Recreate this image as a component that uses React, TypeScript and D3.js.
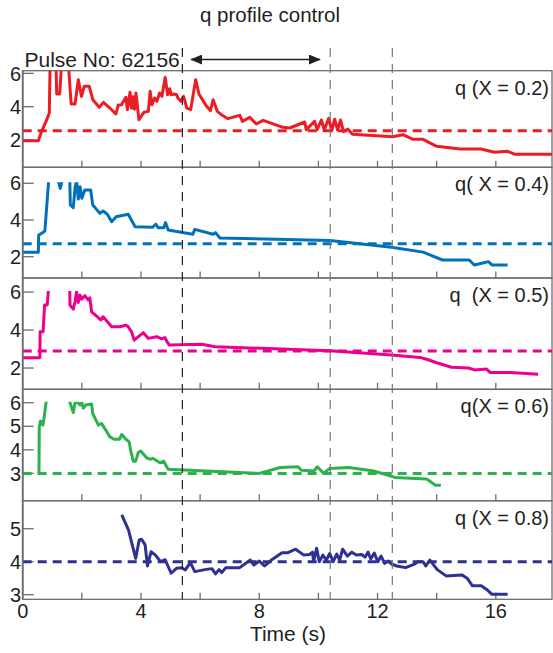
import React from "react";
import * as d3 from "d3";

// ---- data ----
const X_TICKS = [2, 4, 6, 8, 10, 12, 14, 16];
const X_LABELS = [0, 4, 8, 12, 16];
const CONTROL_LINES = [5.4, 10.4, 12.5];
const ARROW_RANGE = [5.7, 10.05];

const LABELS = ["q (X = 0.2)", "q( X = 0.4)", "q  (X = 0.5)", "q(X = 0.6)", "q (X = 0.8)"];
const REFS = [2.55, 2.7, 2.9, 3.0, 4.0];
const Y_TICKS = [[2, 4, 6], [2, 4, 6], [2, 4, 6], [3, 4, 5, 6], [3, 4, 5]];

const q02: [number, number][] = [
  [0.0, 1.95], [0.53, 1.95], [0.64, 2.52], [0.79, 3.12], [0.9, 3.62], [0.93, 7.0], [1.12, 7.0], [1.15, 4.76],
  [1.25, 4.76], [1.33, 7.0], [1.4, 6.5], [1.55, 6.5], [1.6, 5.12], [1.64, 4.16], [1.77, 4.16], [1.88, 5.62],
  [1.99, 4.62], [2.08, 5.22], [2.25, 5.22], [2.37, 4.42], [2.59, 3.96], [2.73, 4.26], [2.95, 3.92], [3.15, 3.56],
  [3.23, 4.08], [3.34, 4.12], [3.49, 4.56], [3.54, 3.82], [3.63, 4.86], [3.68, 3.9], [3.73, 4.6], [3.78, 3.85],
  [3.83, 4.82], [3.93, 3.22], [4.1, 3.66], [4.25, 3.72], [4.31, 4.92], [4.37, 4.12], [4.46, 4.52], [4.54, 4.32],
  [4.63, 4.82], [4.71, 4.62], [4.82, 5.76], [4.9, 4.72], [4.97, 5.08], [5.02, 4.72], [5.1, 4.76], [5.21, 4.72],
  [5.25, 4.52], [5.35, 4.32], [5.44, 4.62], [5.55, 3.92], [5.68, 3.82], [5.85, 5.62], [5.96, 4.76], [6.22, 4.02],
  [6.35, 3.76], [6.44, 4.42], [6.58, 3.72], [6.72, 3.52], [6.94, 3.28], [7.34, 3.48], [7.43, 3.12], [7.68, 3.36],
  [7.9, 2.96], [8.13, 3.18], [8.8, 2.76], [9.03, 2.72], [9.54, 3.08], [9.59, 2.62], [9.87, 3.12], [9.96, 2.62],
  [10.1, 3.2], [10.2, 2.6], [10.35, 3.3], [10.45, 2.55], [10.55, 3.25], [10.65, 2.6], [10.75, 3.2], [10.85, 2.5],
  [11.0, 2.65], [11.15, 2.35], [12.5, 2.2], [12.86, 2.32], [13.2, 2.04], [13.54, 2.04], [14.0, 1.62], [14.8, 1.46],
  [15.5, 1.46], [15.95, 1.26], [16.4, 1.32], [16.65, 1.14], [17.9, 1.14],
];

const q04: [number, number][] = [
  [0.0, 2.24], [0.53, 2.24], [0.54, 3.18], [0.64, 3.27], [0.75, 3.4], [0.89, 6.4], [1.0, 6.8], [1.18, 6.3],
  [1.27, 5.72], [1.36, 6.3], [1.5, 6.8], [1.59, 6.4], [1.61, 4.82], [1.71, 4.67], [1.77, 5.73], [1.82, 6.2],
  [1.88, 5.14], [1.94, 5.81], [2.0, 5.18], [2.1, 5.63], [2.3, 5.63], [2.37, 4.82], [2.61, 4.36], [2.72, 4.49],
  [2.86, 4.31], [3.01, 3.91], [3.16, 4.18], [3.57, 4.31], [3.8, 3.63], [4.39, 3.6], [4.5, 3.77], [4.58, 3.58],
  [4.77, 3.58], [4.83, 3.86], [4.92, 3.45], [5.75, 3.22], [5.82, 3.49], [6.44, 3.22], [6.52, 3.31], [6.67, 3.02],
  [10.38, 2.88], [10.86, 2.8], [12.47, 2.51], [13.54, 2.25], [14.2, 1.82], [15.1, 1.82], [15.27, 1.55],
  [15.53, 1.64], [15.75, 1.73], [15.87, 1.55], [16.4, 1.55],
];

const q05: [number, number][] = [
  [0.0, 2.54], [0.58, 2.54], [0.59, 3.91], [0.69, 3.91], [0.74, 5.32], [0.83, 5.32], [0.88, 6.3], [1.2, 6.8],
  [1.55, 6.5], [1.59, 6.3], [1.6, 5.3], [1.71, 5.1], [1.77, 5.49], [1.82, 6.0], [1.88, 5.45], [1.94, 5.84],
  [2.0, 5.63], [2.1, 5.81], [2.22, 5.58], [2.27, 5.7], [2.33, 4.96], [2.52, 4.7], [2.64, 4.53], [2.72, 4.7],
  [3.01, 4.17], [3.29, 4.17], [3.49, 4.26], [3.57, 4.17], [3.68, 3.91], [3.77, 3.47], [3.84, 3.56], [4.08, 3.86],
  [4.25, 3.56], [4.53, 3.65], [4.7, 3.53], [4.81, 3.6], [4.87, 3.42], [4.96, 3.21], [6.05, 3.25], [6.51, 3.12],
  [10.38, 2.91], [12.47, 2.68], [13.43, 2.56], [13.66, 2.46], [14.0, 2.28], [14.5, 2.04], [15.07, 2.0],
  [15.29, 1.9], [15.69, 1.95], [15.8, 1.77], [16.48, 1.77], [17.43, 1.67],
];

const q06: [number, number][] = [
  [0.55, 3.0], [0.56, 4.97], [0.6, 5.22], [0.68, 5.05], [0.71, 5.25], [0.79, 6.0], [0.85, 6.6], [1.5, 6.6],
  [1.6, 6.0], [1.71, 5.58], [1.77, 6.0], [1.88, 6.0], [1.94, 5.9], [2.0, 6.0], [2.05, 5.77], [2.13, 5.9],
  [2.33, 5.95], [2.37, 5.54], [2.56, 5.05], [2.67, 5.12], [2.95, 4.55], [3.09, 4.45], [3.27, 4.45], [3.35, 4.65],
  [3.49, 4.45], [3.6, 4.34], [3.66, 3.92], [3.74, 3.52], [3.82, 3.52], [3.91, 3.89], [3.99, 3.95], [4.19, 3.66],
  [4.3, 3.6], [4.4, 3.64], [4.64, 3.45], [4.77, 3.52], [4.87, 3.28], [4.92, 3.18], [8.0, 3.0], [8.71, 3.25],
  [9.31, 3.28], [9.43, 3.13], [9.85, 3.1], [9.96, 3.28], [10.18, 3.0], [10.38, 3.21], [11.03, 3.25],
  [11.87, 3.1], [12.59, 2.83], [13.66, 2.76], [13.96, 2.5], [14.14, 2.5],
];

const q08: [number, number][] = [
  [3.35, 5.42], [3.58, 4.96], [3.82, 4.1], [3.94, 4.66], [4.02, 4.68], [4.14, 4.51], [4.22, 3.87], [4.34, 4.3],
  [4.49, 4.2], [4.66, 4.0], [4.82, 4.06], [5.02, 3.65], [5.2, 3.8], [5.38, 3.82], [5.5, 3.75], [5.67, 3.97],
  [5.82, 3.7], [6.16, 3.76], [6.4, 3.79], [6.52, 3.63], [6.64, 3.76], [6.73, 3.67], [6.87, 3.82], [7.34, 3.82],
  [7.7, 4.05], [7.82, 3.9], [8.0, 4.02], [8.18, 3.87], [8.41, 4.05], [8.77, 4.27], [8.95, 4.27], [9.23, 4.38],
  [9.51, 4.2], [9.7, 4.22], [9.8, 4.29], [9.84, 4.0], [9.94, 4.41], [10.03, 4.0], [10.15, 4.2], [10.27, 4.05],
  [10.38, 4.25], [10.5, 4.0], [10.62, 4.23], [10.72, 4.05], [10.82, 4.38], [10.98, 4.17], [11.13, 4.29],
  [11.28, 4.2], [11.46, 4.22], [11.58, 4.14], [11.68, 4.29], [11.77, 4.08], [11.89, 4.26], [12.01, 4.0],
  [12.12, 4.17], [12.24, 3.95], [12.36, 4.02], [12.47, 3.93], [12.65, 3.87], [12.95, 3.82], [13.25, 3.93],
  [13.37, 4.0], [13.54, 4.0], [13.63, 3.87], [13.77, 4.05], [14.02, 3.76], [14.32, 3.57], [14.85, 3.6],
  [15.03, 3.5], [15.21, 3.27], [15.51, 3.27], [15.69, 3.16], [15.87, 3.01], [16.4, 3.01],
];

const SERIES = [q02, q04, q05, q06, q08];
const COLORS = ["#ED1C24", "#0072BC", "#EC008C", "#2BB24C", "#2E3192"];

// ---- layout ----
const W = 553;
const H = 653;
const X0 = 22.7;
const X1 = 552;
const PANELS = [
  { top: 70.7, bottom: 167.3, dom: [0.36, 6.16], clipQ: null as number | null },
  { top: 167.3, bottom: 278, dom: [0.84, 6.87], clipQ: 6 },
  { top: 278, bottom: 389.3, dom: [0.88, 6.74], clipQ: 6 },
  { top: 389.3, bottom: 500.7, dom: [1.84, 6.57], clipQ: 6 },
  { top: 500.7, bottom: 599.3, dom: [2.86, 5.85], clipQ: null as number | null },
];
const FONT = "'Liberation Sans', Arial, Helvetica, sans-serif";
const FRAME = "#6d6d6d";
const TEXT = "#231F20";

export default function App() {
  const x = d3.scaleLinear().domain([0, 17.9]).range([X0, X1]);
  const bottomY = PANELS[PANELS.length - 1].bottom;

  return (
    <svg width={W} height={H} style={{ position: "absolute", left: 0, top: 0, background: "#fff" }} fontFamily={FONT}>
      <defs>
        {PANELS.map((p, i) => {
          const y = d3.scaleLinear().domain(p.dom).range([p.bottom, p.top]);
          const ct = p.clipQ == null ? p.top : y(p.clipQ) - 1;
          return (
            <clipPath id={`clip${i}`} key={i}>
              <rect x={X0} y={ct} width={X1 - X0} height={p.bottom - ct} />
            </clipPath>
          );
        })}
        <marker id="ah" viewBox="0 0 12 10" refX="11" refY="5" markerWidth="12" markerHeight="10" markerUnits="userSpaceOnUse" orient="auto-start-reverse">
          <path d="M0,0 L12,5 L0,10 Z" fill={TEXT} />
        </marker>
      </defs>

      <text x={270} y={22} fontSize={20.5} textAnchor="middle" fill={TEXT}>q profile control</text>
      <text x={24.5} y={67} fontSize={21} fill={TEXT}>Pulse No: 62156</text>
      <line x1={x(ARROW_RANGE[0])} x2={x(ARROW_RANGE[1])} y1={59.5} y2={59.5} stroke={TEXT} strokeWidth={1.6}
        markerStart="url(#ah)" markerEnd="url(#ah)" />

      {PANELS.map((p, i) => {
        const y = d3.scaleLinear().domain(p.dom).range([p.bottom, p.top]);
        const line = d3.line<[number, number]>().x((d) => x(d[0])).y((d) => y(d[1]));
        return (
          <g key={i}>
            <rect x={X0} y={p.top} width={X1 - X0} height={p.bottom - p.top} fill="none" stroke={FRAME} strokeWidth={1.3} />
            {X_TICKS.map((t) => (
              <line key={t} x1={x(t)} x2={x(t)} y1={p.bottom} y2={p.bottom - 6.5} stroke={FRAME} strokeWidth={1.3} />
            ))}
            {Y_TICKS[i].map((v) => (
              <g key={v}>
                <line x1={X0} x2={X0 + 11} y1={y(v)} y2={y(v)} stroke={FRAME} strokeWidth={1.3} />
                <text x={21} y={y(v)} dy="0.36em" fontSize={20} textAnchor="end" fill={TEXT}>{v}</text>
              </g>
            ))}
            <line x1={X0} x2={X1} y1={y(REFS[i])} y2={y(REFS[i])} stroke={COLORS[i]} strokeWidth={3} strokeDasharray="9,6" />
            <path d={line(SERIES[i]) || ""} fill="none" stroke={COLORS[i]} strokeWidth={3} strokeLinejoin="round"
              clipPath={`url(#clip${i})`} />
            <text x={549} y={p.top + 24} fontSize={20} textAnchor="end" fill={TEXT} style={{ whiteSpace: "pre" }}>{LABELS[i]}</text>
          </g>
        );
      })}

      <line x1={X0} x2={X0} y1={PANELS[0].top} y2={bottomY} stroke={FRAME} strokeWidth={1.8} />

      {CONTROL_LINES.map((t, i) => (
        <line key={t} x1={x(t)} x2={x(t)} y1={48} y2={bottomY} stroke={i === 0 ? "#222" : "#777"} strokeWidth={1.2}
          strokeDasharray="9,7" />
      ))}

      {X_LABELS.map((t) => (
        <text key={t} x={x(t)} y={618} fontSize={20} textAnchor="middle" fill={TEXT}>{t}</text>
      ))}
      <text x={288} y={641} fontSize={21} textAnchor="middle" fill={TEXT}>Time (s)</text>
    </svg>
  );
}
